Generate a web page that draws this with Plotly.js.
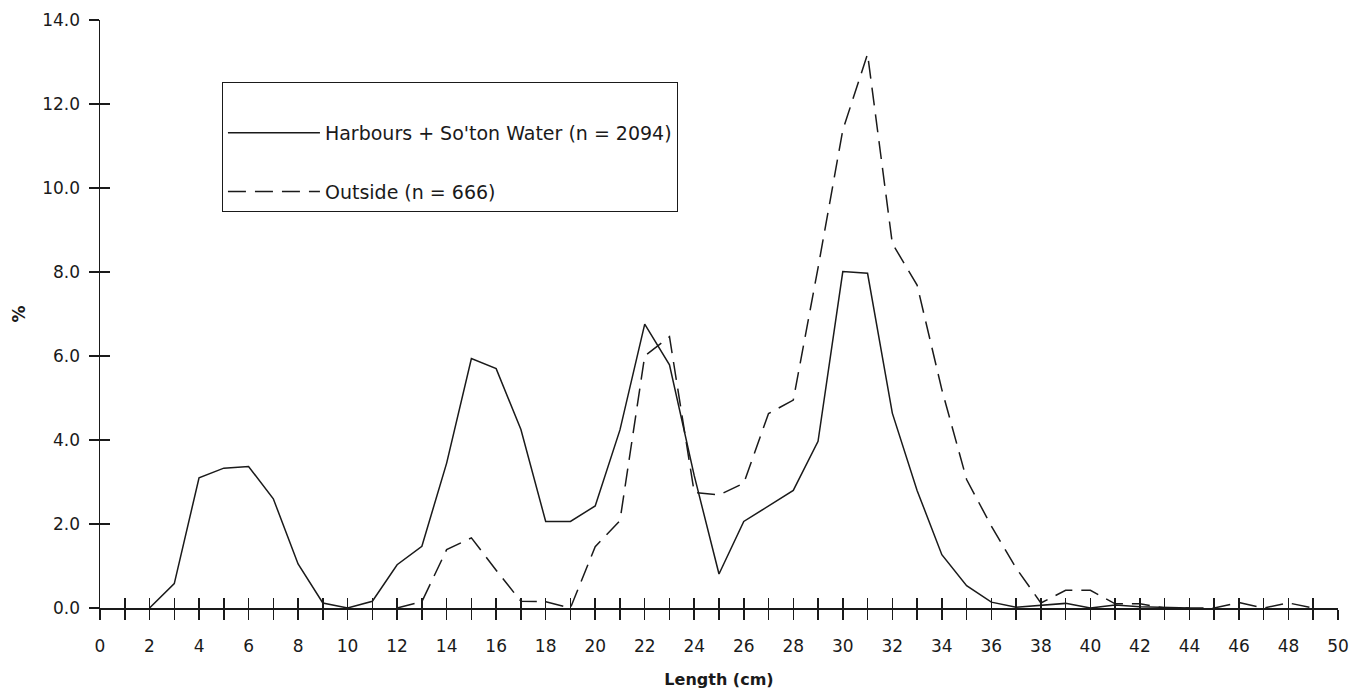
<!DOCTYPE html>
<html>
<head>
<meta charset="utf-8">
<script src="https://cdn.plot.ly/plotly-3.0.1.min.js"></script>
<style>
  html, body { margin: 0; padding: 0; background: #ffffff; }
  #chart { width: 1368px; height: 695px; }
</style>
</head>
<body>
<div id="chart"></div>
<script>
// ---- Data ----
const harbourName = "Harbours + So'ton Water (n = 2094)";
const outsideName = "Outside (n = 666)";

const harbourLength = [2, 3, 4, 5, 6, 7, 8, 9, 10, 11, 12, 13, 14, 15, 16, 17, 18, 19, 20, 21, 22, 23,
                       24, 25, 26, 27, 28, 29, 30, 31, 32, 33, 34, 35, 36, 37, 38, 39, 40, 41, 42, 43, 44];
const harbourPct = [0.0, 0.58, 3.10, 3.33, 3.37, 2.60, 1.05, 0.12, 0.0, 0.16, 1.03, 1.47, 3.45, 5.94, 5.70,
                    4.25, 2.06, 2.06, 2.43, 4.24, 6.76, 5.79, 3.15, 0.81, 2.06, 2.43, 2.80, 3.97, 8.01, 7.97,
                    4.64, 2.80, 1.27, 0.53, 0.14, 0.02, 0.06, 0.11, 0.0, 0.07, 0.03, 0.01, 0.0];

const outsideLength = [12, 13, 14, 15, 16, 17, 18, 19, 20, 21, 22, 23, 24, 25, 26, 27, 28, 29, 30, 31,
                       32, 33, 34, 35, 36, 37, 38, 39, 40, 41, 42, 43, 44, 45, 46, 47, 48, 49];
const outsidePct = [0.0, 0.15, 1.39, 1.67, 0.90, 0.16, 0.15, 0.0, 1.46, 2.08, 6.00, 6.46, 2.75, 2.69,
                    2.97, 4.63, 4.95, 8.10, 11.38, 13.19, 8.68, 7.69, 5.20, 3.06, 1.95, 0.95, 0.12, 0.42,
                    0.42, 0.10, 0.10, 0.0, 0.0, 0.0, 0.13, 0.0, 0.12, 0.0];

const xTickValues = [0, 2, 4, 6, 8, 10, 12, 14, 16, 18, 20, 22, 24, 26, 28, 30, 32, 34, 36, 38, 40, 42, 44, 46, 48, 50];
const xTickLabels = xTickValues.map(String);
const yTickValues = [0, 2, 4, 6, 8, 10, 12, 14];
const yTickLabels = ["0.0", "2.0", "4.0", "6.0", "8.0", "10.0", "12.0", "14.0"];

const xTitle = "Length (cm)";
const yTitle = "%";

// ---- Chart ----
const fontFamily = "DejaVu Sans, Liberation Sans, sans-serif";
const ink = "#1a1a1a";

const traces = [
  {
    x: harbourLength, y: harbourPct, name: harbourName,
    type: "scatter", mode: "lines",
    line: { color: ink, width: 1.5, dash: "solid" },
    legendgroup: "a", xaxis: "x", yaxis: "y"
  },
  {
    x: outsideLength, y: outsidePct, name: outsideName,
    type: "scatter", mode: "lines",
    line: { color: ink, width: 1.5, dash: "18px,9px" },
    legendgroup: "b", xaxis: "x2", yaxis: "y2"
  }
];

const xRange = [0, 50];
const yRange = [0, 14];

const layout = {
  width: 1368, height: 695,
  paper_bgcolor: "#ffffff", plot_bgcolor: "#ffffff",
  margin: { l: 100, r: 30, t: 20, b: 87 },
  font: { family: fontFamily, color: ink, size: 17 },
  showlegend: true,
  legend: {
    x: 0.0985, y: 0.895, xanchor: "left", yanchor: "top",
    bordercolor: ink, borderwidth: 1, bgcolor: "#ffffff",
    font: { family: fontFamily, size: 19, color: ink },
    title: { text: "\u00a0", side: "top", font: { size: 24 } },
    itemwidth: 92, tracegroupgap: 31, traceorder: "grouped"
  },
  xaxis: {
    range: xRange, autorange: false, fixedrange: true,
    showgrid: false, zeroline: false,
    showline: true, linecolor: ink, linewidth: 1.5,
    tickmode: "array", tickvals: xTickValues, ticktext: xTickLabels,
    ticks: "outside", ticklen: 10, tickwidth: 1.5, tickcolor: ink,
    minor: { dtick: 1, ticks: "outside", ticklen: 10, tickwidth: 1.5, tickcolor: ink, showgrid: false },
    ticklabelstandoff: 12,
    tickfont: { size: 17, color: ink },
    title: { text: xTitle, font: { size: 16, color: ink, weight: "bold" }, standoff: 19 },
    automargin: false
  },
  yaxis: {
    range: yRange, autorange: false, fixedrange: true,
    showgrid: false, zeroline: false,
    showline: true, linecolor: ink, linewidth: 1.5,
    tickmode: "array", tickvals: yTickValues, ticktext: yTickLabels,
    ticks: "outside", ticklen: 10, tickwidth: 1.5, tickcolor: ink,
    ticklabelstandoff: 5,
    tickfont: { size: 17, color: ink },
    title: { text: yTitle, font: { size: 17, color: ink, weight: "bold" }, standoff: 12 },
    automargin: false
  },
  xaxis2: {
    overlaying: "x", anchor: "y2", side: "bottom",
    range: xRange, autorange: false, fixedrange: true,
    showgrid: false, zeroline: false, showline: false,
    tickmode: "linear", tick0: 0, dtick: 1,
    ticks: "inside", ticklen: 10, tickwidth: 1.5, tickcolor: ink,
    showticklabels: false
  },
  yaxis2: {
    overlaying: "y", anchor: "x2", side: "left",
    range: yRange, autorange: false, fixedrange: true,
    showgrid: false, zeroline: false, showline: false,
    tickmode: "linear", tick0: 0, dtick: 2,
    ticks: "inside", ticklen: 10, tickwidth: 1.5, tickcolor: ink,
    showticklabels: false
  }
};

Plotly.newPlot("chart", traces, layout, { staticPlot: true, displayModeBar: false });
</script>
</body>
</html>
